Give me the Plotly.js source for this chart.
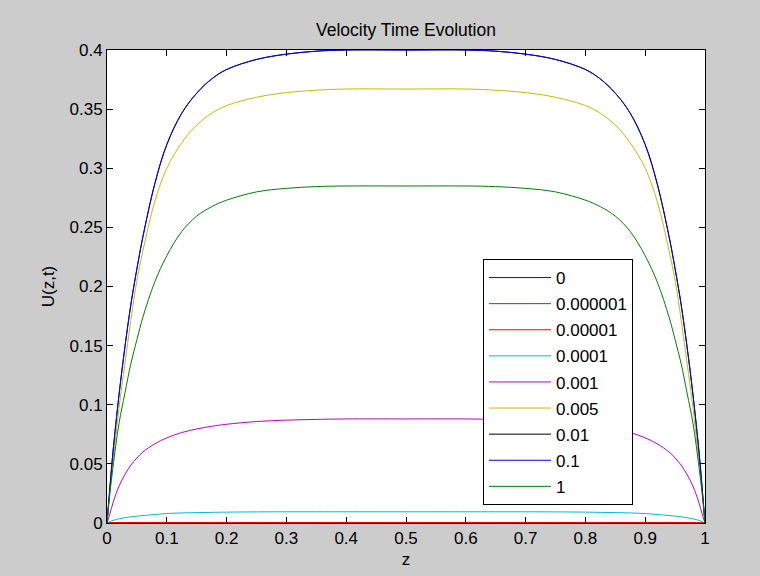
<!DOCTYPE html>
<html>
<head>
<meta charset="utf-8">
<script src="https://cdn.plot.ly/plotly-3.0.1.min.js"></script>
<style>html,body{margin:0;padding:0;background:#cccccc;}#plot{width:760px;height:576px;}</style>
</head>
<body>
<div id="plot"></div>
<script>
// z positions
var z = [0,0.005,0.01,0.02,0.03,0.04,0.05,0.06,0.08,0.1,0.125,0.15,0.175,0.2,0.25,0.3,0.35,0.4,0.5,
         0.6,0.65,0.7,0.75,0.8,0.825,0.85,0.875,0.9,0.92,0.94,0.95,0.96,0.97,0.98,0.99,0.995,1];

// legend labels (time values)
var timeLabels = ["0","0.000001","0.00001","0.0001","0.001","0.005","0.01","0.1","1"];

// series values U(z,t)
var u_t0 = [0,0,0,0,0,0,0,0,0,0,0,0,0,0,0,0,0,0,0,
            0,0,0,0,0,0,0,0,0,0,0,0,0,0,0,0,0,0];
var u_t1e6 = [0,0.00001,0.00002,0.00003,0.00004,0.00005,0.00005,0.00005,0.00005,0.00005,0.00005,0.00005,0.00005,0.00005,0.00005,0.00005,0.00005,0.00005,0.00005,
              0.00005,0.00005,0.00005,0.00005,0.00005,0.00005,0.00005,0.00005,0.00005,0.00005,0.00005,0.00005,0.00005,0.00004,0.00003,0.00002,0.00001,0];
var u_t1e5 = [0,0.0002,0.0003,0.0004,0.00045,0.0005,0.0005,0.0005,0.0005,0.0005,0.0005,0.0005,0.0005,0.0005,0.0005,0.0005,0.0005,0.0005,0.0005,
              0.0005,0.0005,0.0005,0.0005,0.0005,0.0005,0.0005,0.0005,0.0005,0.0005,0.0005,0.0005,0.0005,0.00045,0.0004,0.0003,0.0002,0];
var u_t1e4 = [0,0.0012,0.0022,0.0035,0.0045,0.0052,0.0058,0.0063,0.0072,0.008,0.0085,0.0088,0.009,0.0092,0.0094,0.0095,0.0095,0.0095,0.0095,
              0.0095,0.0095,0.0095,0.0094,0.0092,0.009,0.0088,0.0085,0.008,0.0072,0.0063,0.0058,0.0052,0.0045,0.0035,0.0022,0.0012,0];
var u_t1e3 = [0,0.008,0.017,0.031,0.041,0.049,0.055,0.06,0.067,0.072,0.0765,0.0795,0.0818,0.0835,0.0858,0.087,0.0876,0.088,0.088,
              0.088,0.0876,0.087,0.0858,0.0835,0.0818,0.0795,0.0765,0.072,0.067,0.06,0.055,0.049,0.041,0.031,0.017,0.008,0];
var u_t5e3 = [0,0.027,0.052,0.097,0.135,0.172,0.205,0.23,0.272,0.300,0.3215,0.3365,0.3465,0.353,0.36,0.364,0.366,0.367,0.367,
              0.367,0.366,0.364,0.36,0.353,0.3465,0.3365,0.3215,0.300,0.272,0.23,0.205,0.172,0.135,0.097,0.052,0.027,0];
var u_t1e2 = [0,0.031,0.06,0.108,0.149,0.185,0.215,0.242,0.287,0.320,0.3465,0.3635,0.3755,0.3835,0.392,0.3965,0.399,0.4,0.4,
              0.4,0.399,0.3965,0.392,0.3835,0.3755,0.3635,0.3465,0.320,0.287,0.242,0.215,0.185,0.149,0.108,0.06,0.031,0];
var u_t1e1 = [0,0.031,0.06,0.108,0.149,0.185,0.215,0.242,0.287,0.320,0.3465,0.3635,0.3755,0.3835,0.392,0.3965,0.399,0.4,0.4,
              0.4,0.399,0.3965,0.392,0.3835,0.3755,0.3635,0.3465,0.320,0.287,0.242,0.215,0.185,0.149,0.108,0.06,0.031,0];
var u_t1 = [0,0.026,0.047,0.084,0.11,0.135,0.155,0.174,0.204,0.226,0.2465,0.2595,0.2675,0.273,0.28,0.283,0.2845,0.285,0.285,
            0.285,0.2845,0.283,0.28,0.273,0.2675,0.2595,0.2465,0.226,0.204,0.174,0.155,0.135,0.11,0.084,0.047,0.026,0];

var xTicks = [0,0.1,0.2,0.3,0.4,0.5,0.6,0.7,0.8,0.9,1];
var yTicks = [0,0.05,0.1,0.15,0.2,0.25,0.3,0.35,0.4];

var series = [u_t0,u_t1e6,u_t1e5,u_t1e4,u_t1e3,u_t5e3,u_t1e2,u_t1e1,u_t1];
var colors = ["#0000ff","#008000","#ff0000","#00bfbf","#bf00bf","#bfbf00","#000000","#0000ff","#008000"];

var traces = series.map(function(s,i){
  return {x:z, y:s, type:"scatter", mode:"lines", name:timeLabels[i],
          legendgroup:"g"+i,
          line:{color:colors[i], width:1, shape:"spline", smoothing:1}};
});

var font = "Arial, 'Liberation Sans', sans-serif";
var axisCommon = {
  showgrid:false, zeroline:false, showline:true, linecolor:"#000", linewidth:1,
  mirror:"ticks", ticks:"inside", ticklen:6, tickcolor:"#000", tickwidth:1,
  tickfont:{family:font, size:17, color:"#000"}, layer:"below traces"
};

var layout = {
  width:760, height:576,
  paper_bgcolor:"#cccccc", plot_bgcolor:"#ffffff",
  margin:{l:107, r:55, t:50, b:53},
  title:{text:"Velocity Time Evolution", font:{family:font, size:17.5, color:"#000"},
         x:0.5, xref:"paper", xanchor:"center", y:1-30/576, yref:"container", yanchor:"middle"},
  xaxis:Object.assign({}, axisCommon, {range:[0,1], tickvals:xTicks, ticktext:xTicks.map(String),
         title:{text:"z", font:{family:font, size:17, color:"#000"}, standoff:5}}),
  yaxis:Object.assign({}, axisCommon, {range:[0,0.4], tickvals:yTicks, ticktext:yTicks.map(String),
         title:{text:"U(z,t)", font:{family:font, size:17, color:"#000"}, standoff:10}}),
  showlegend:true,
  legend:{x:(483-107)/598, y:(523-259)/473, xanchor:"left", yanchor:"top",
          bgcolor:"#ffffff", bordercolor:"#000", borderwidth:1,
          font:{family:font, size:17, color:"#000"},
          traceorder:"grouped", tracegroupgap:1, itemwidth:62}
};

Plotly.newPlot("plot", traces, layout, {displayModeBar:false, staticPlot:true});
</script>
</body>
</html>
